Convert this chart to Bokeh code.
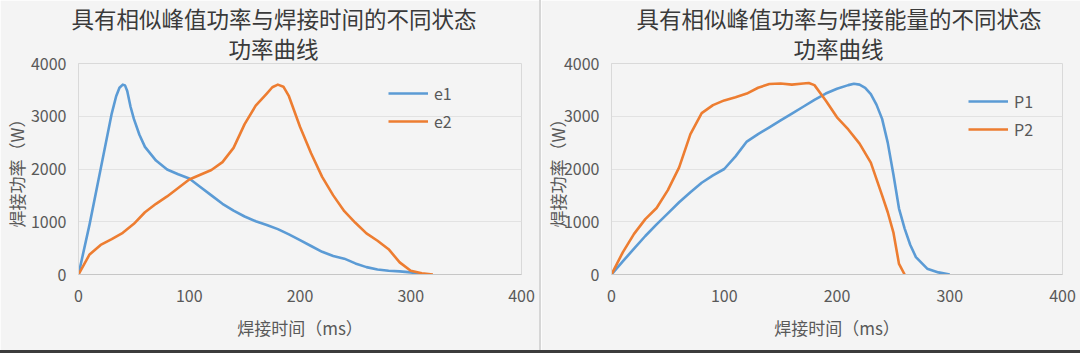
from bokeh.plotting import figure
from bokeh.models import Range1d, FixedTicker, Legend, LegendItem, Div, Title
from bokeh.layouts import row, column
from bokeh.embed import file_html
from bokeh.resources import INLINE

FONT = "Noto Sans CJK SC"

# ---- left chart data ----
left_title = ["具有相似峰值功率与焊接时间的不同状态", "功率曲线"]
t_e1 = [0, 10, 20, 30, 34, 37, 40, 42, 44, 47, 50, 55, 60, 70, 80, 90, 100, 110, 120, 130, 140, 150,
        160, 170, 180, 190, 200, 210, 220, 230, 240, 250, 260, 270, 280, 290, 300, 310]
e1 = [0, 950, 2000, 3050, 3380, 3540, 3600, 3585, 3480, 3180, 2950, 2650, 2420, 2160, 1990, 1900, 1820,
      1660, 1500, 1340, 1210, 1100, 1010, 940, 860, 760, 650, 540, 430, 350, 300, 210, 140, 95, 70,
      60, 40, 10]
t_e2 = [0, 10, 20, 30, 40, 50, 60, 70, 80, 90, 100, 110, 120, 130, 140, 150, 160, 170, 175, 180, 185,
        190, 200, 210, 220, 230, 240, 250, 260, 270, 280, 290, 300, 310, 320]
e2 = [0, 380, 560, 670, 790, 960, 1180, 1340, 1480, 1640, 1800, 1890, 1980, 2130, 2400, 2850, 3200,
      3430, 3550, 3600, 3560, 3380, 2800, 2300, 1850, 1500, 1200, 980, 780, 640, 480, 230, 70, 25, 0]

# ---- right chart data ----
right_title = ["具有相似峰值功率与焊接能量的不同状态", "功率曲线"]
t_p1 = [0, 10, 20, 30, 40, 50, 60, 70, 80, 90, 100, 110, 120, 130, 140, 150, 160, 170, 180, 190,
        200, 210, 215, 220, 225, 230, 235, 240, 245, 250, 255, 260, 265, 270, 280, 290, 300]
p1 = [0, 250, 490, 730, 950, 1160, 1370, 1560, 1740, 1880, 2000, 2240, 2520, 2660, 2790, 2920, 3050,
      3180, 3310, 3430, 3520, 3590, 3615, 3600, 3540, 3420, 3220, 2950, 2500, 1900, 1250, 870, 560,
      330, 110, 40, 0]
t_p2 = [0, 10, 20, 30, 40, 50, 60, 70, 80, 90, 100, 110, 120, 130, 140, 150, 160, 170, 175, 180,
        190, 200, 210, 220, 230, 240, 245, 250, 255, 260]
p2 = [0, 420, 770, 1050, 1260, 1600, 2030, 2660, 3060, 3210, 3300, 3360, 3430, 3540, 3610, 3620, 3600,
      3620, 3630, 3590, 3300, 2980, 2750, 2480, 2120, 1500, 1180, 800, 200, 0]

x_ticks = [0, 100, 200, 300, 400]
y_ticks = [0, 1000, 2000, 3000, 4000]
x_label = "焊接时间（ms）"
y_label = "焊接功率（W）"

BLUE = "#5b9bd5"
ORANGE = "#ed7d31"
BG = "#f4f4f4"
TXT = "#595959"


def make_fig(width, min_left, titles, title_offsets, ylabel_standoff, series, legend_loc):
    p = figure(width=width, height=350, output_backend="svg", toolbar_location=None,
               x_range=Range1d(0, 400), y_range=Range1d(0, 4000),
               min_border_left=min_left, min_border_right=18, min_border_top=63,
               min_border_bottom=76)
    p.title = None
    p.background_fill_color = BG
    p.border_fill_color = BG
    p.outline_line_color = "#d9d9d9"
    p.xgrid.visible = False
    p.ygrid.grid_line_color = "#e2e2e2"
    p.ygrid.grid_line_width = 1
    p.xaxis.ticker = FixedTicker(ticks=x_ticks)
    p.yaxis.ticker = FixedTicker(ticks=y_ticks)
    for ax in (p.xaxis, p.yaxis):
        ax.major_tick_line_color = None
        ax.minor_tick_line_color = None
        ax.major_tick_in = 0
        ax.major_tick_out = 0
        ax.major_label_text_font = FONT
        ax.major_label_text_font_size = "16px"
        ax.major_label_text_color = TXT
        ax.axis_label_text_font = FONT
        ax.axis_label_text_font_size = "17px"
        ax.axis_label_text_color = TXT
        ax.axis_label_text_font_style = "normal"
    p.xaxis.major_label_standoff = 15
    p.yaxis.major_label_standoff = 12
    p.xaxis.axis_label = x_label
    p.yaxis.axis_label = y_label
    p.xaxis.axis_label_standoff = 10
    p.yaxis.axis_label_standoff = ylabel_standoff
    p.xaxis.axis_line_color = "#c6c6c6"
    p.yaxis.axis_line_color = "#d9d9d9"

    items = []
    for name, xs, ys, color in series:
        r = p.line(xs, ys, line_color=color, line_width=2.6, line_join="round")
        items.append(LegendItem(label=name, renderers=[r]))
    leg = Legend(items=items, location=legend_loc, background_fill_alpha=0,
                 border_line_color=None, padding=0, margin=0, spacing=4,
                 glyph_width=40, glyph_height=20, label_height=20, label_standoff=6,
                 label_text_font=FONT, label_text_font_size="16px", label_text_color=TXT)
    p.add_layout(leg)

    # second line first (closest to frame), then first line above it
    p.add_layout(Title(text=titles[1], align="left", offset=title_offsets[1], standoff=0,
                       text_font=FONT, text_font_size="22.5px", text_font_style="normal",
                       text_color="#3a3a3a"), "above")
    p.add_layout(Title(text=titles[0], align="left", offset=title_offsets[0], standoff=-8,
                       text_font=FONT, text_font_size="22.5px", text_font_style="normal",
                       text_color="#3a3a3a"), "above")
    return p


left = make_fig(539, 78, left_title, (-7, 150), -1,
                [("e1", t_e1, e1, BLUE), ("e2", t_e2, e2, ORANGE)], (310, 141))
right = make_fig(539, 70, right_title, (25, 182), -9,
                 [("P1", t_p1, p1, BLUE), ("P2", t_p2, p2, ORANGE)], (357, 133))

sep = Div(width=2, height=350, margin=0, styles={"background-color": "#d6d6d6"})
bottom = Div(width=1080, height=3, margin=0, styles={"background-color": "#3c3c3c"})
layout = column(row(left, sep, right, spacing=0), bottom, spacing=0)

open("out.html", "w").write(file_html(layout, INLINE))
